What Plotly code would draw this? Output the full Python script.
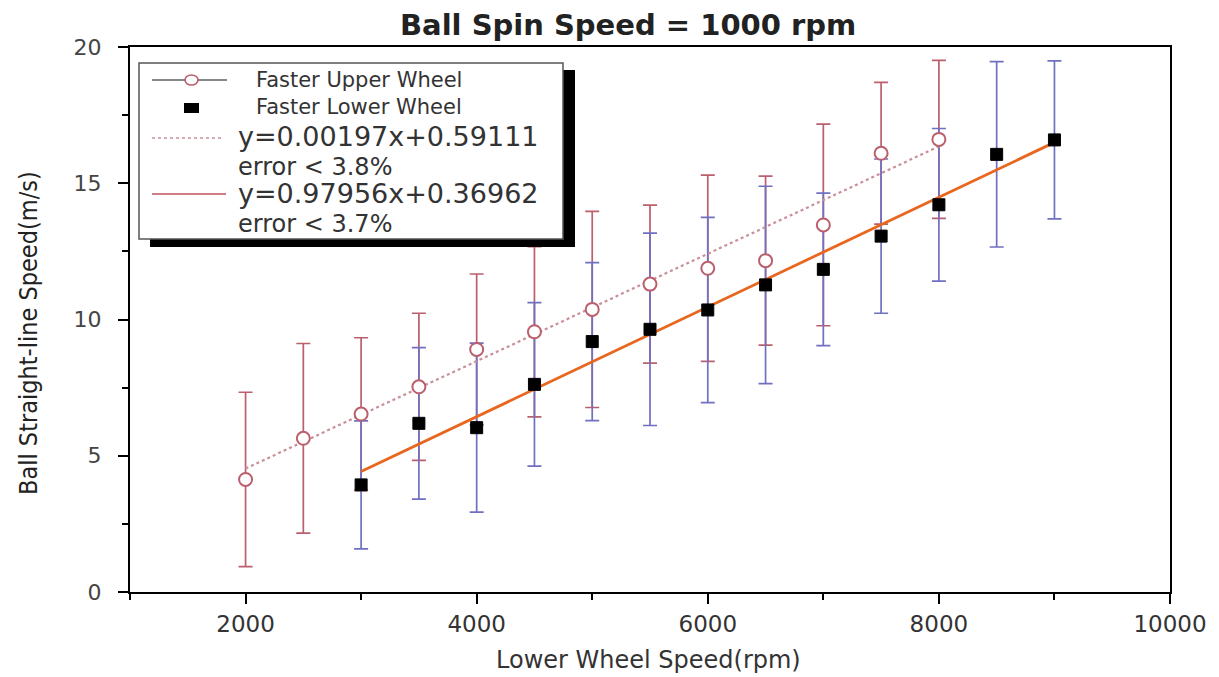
import plotly.graph_objects as go

# ---------------- data ----------------
upper_x = [2000, 2500, 3000, 3500, 4000, 4500, 5000, 5500, 6000, 6500, 7000, 7500, 8000]
upper_y = [4.13, 5.64, 6.53, 7.53, 8.90, 9.55, 10.37, 11.30, 11.88, 12.16, 13.47, 16.10, 16.61]
upper_err = [3.20, 3.48, 2.80, 2.70, 2.77, 3.12, 3.60, 2.90, 3.42, 3.10, 3.70, 2.60, 2.90]

lower_x = [3000, 3500, 4000, 4500, 5000, 5500, 6000, 6500, 7000, 7500, 8000, 8500, 9000]
lower_y = [3.93, 6.19, 6.03, 7.62, 9.19, 9.64, 10.35, 11.27, 11.84, 13.06, 14.21, 16.06, 16.59]
lower_err = [2.35, 2.78, 3.10, 3.00, 2.90, 3.53, 3.40, 3.62, 2.80, 2.83, 2.80, 3.40, 2.90]

fit_upper_x = [2000, 8000]
fit_upper_slope = 0.00197
fit_upper_intercept = 0.59111
fit_lower_x = [3000, 9000]
fit_lower_y = [4.42, 16.50]

x_ticks = [2000, 4000, 6000, 8000, 10000]
y_ticks = [0, 5, 10, 15, 20]

title_text = "Ball Spin Speed = 1000 rpm"
x_title = "Lower Wheel Speed(rpm)"
y_title = "Ball Straight-line Speed(m/s)"
series_labels = ["Faster Upper Wheel", "Faster Lower Wheel"]
fit_labels = ["y=0.00197x+0.59111", "error < 3.8%",
              "y=0.97956x+0.36962", "error < 3.7%"]

# ---------------- style ----------------
RED = "#bb5f6c"
BLUE = "#7070c2"
ORANGE = "#e8661e"
DASH = "#c99098"
TXT = "#333333"
OFF = 8  # page body margin
W, H = 1219 - OFF, 677 - OFF
# plot area in page pixels
L, R, T, B = 130, 1170, 47, 592


def px(xp):
    return (xp - L) / (R - L)


def py(yp):
    return (B - yp) / (B - T)


fig = go.Figure()

# red error bars (upper)
fig.add_trace(go.Scatter(
    x=upper_x, y=upper_y, mode="markers",
    marker=dict(size=1, color="rgba(0,0,0,0)"),
    error_y=dict(type="data", array=upper_err, color=RED, thickness=1.7, width=7),
    showlegend=False, hoverinfo="skip"))

# blue error bars (lower)
fig.add_trace(go.Scatter(
    x=lower_x, y=lower_y, mode="markers",
    marker=dict(size=1, color="rgba(0,0,0,0)"),
    error_y=dict(type="data", array=lower_err, color=BLUE, thickness=1.7, width=7),
    showlegend=False, hoverinfo="skip"))

# fit lines
fy_up = [fit_upper_slope * v + fit_upper_intercept for v in fit_upper_x]
fig.add_trace(go.Scatter(x=fit_upper_x, y=fy_up, mode="lines",
                         line=dict(color=DASH, width=2.2, dash="dot"),
                         showlegend=False, hoverinfo="skip"))
fig.add_trace(go.Scatter(x=fit_lower_x, y=fit_lower_y, mode="lines",
                         line=dict(color=ORANGE, width=2.8),
                         showlegend=False, hoverinfo="skip"))

# markers
fig.add_trace(go.Scatter(
    x=upper_x, y=upper_y, mode="markers",
    marker=dict(symbol="circle", size=13, color="white", line=dict(color=RED, width=2)),
    showlegend=False))
fig.add_trace(go.Scatter(
    x=lower_x, y=lower_y, mode="markers",
    marker=dict(symbol="square", size=12, color="black", line=dict(color="black", width=1)),
    showlegend=False))

shapes = []
annotations = []

# legend box with shadow
shapes.append(dict(type="rect", xref="paper", yref="paper",
                   x0=px(150), x1=px(575), y0=py(247), y1=py(70),
                   fillcolor="black", line=dict(width=0), layer="above"))
shapes.append(dict(type="rect", xref="paper", yref="paper",
                   x0=px(139), x1=px(563), y0=py(239), y1=py(63),
                   fillcolor="white", line=dict(color="#555555", width=1.5), layer="above"))
# legend samples
shapes.append(dict(type="line", xref="paper", yref="paper",
                   x0=px(152), x1=px(227), y0=py(80), y1=py(80),
                   line=dict(color="#888888", width=2), layer="above"))
shapes.append(dict(type="circle", xref="paper", yref="paper",
                   x0=px(185), x1=px(198), y0=py(85), y1=py(75),
                   fillcolor="white", line=dict(color=RED, width=1.6), layer="above"))
shapes.append(dict(type="rect", xref="paper", yref="paper",
                   x0=px(184), x1=px(199), y0=py(113), y1=py(103),
                   fillcolor="black", line=dict(width=0), layer="above"))
shapes.append(dict(type="line", xref="paper", yref="paper",
                   x0=px(152), x1=px(222), y0=py(138), y1=py(138),
                   line=dict(color=DASH, width=1.6, dash="dot"), layer="above"))
shapes.append(dict(type="line", xref="paper", yref="paper",
                   x0=px(152), x1=px(226), y0=py(194), y1=py(194),
                   line=dict(color="#c0505a", width=1.6), layer="above"))

# legend texts (single multi-line blocks so that line spacing matches)
annotations.append(dict(
    text="<br>".join(series_labels), xref="paper", yref="paper",
    x=px(254), y=py(93.5), xanchor="left", yanchor="middle", align="left",
    showarrow=False, font=dict(family="DejaVu Sans", size=21, color=TXT)))
fit_lines_html = []
for i, lab in enumerate(fit_labels):
    fs = 27 if i % 2 == 0 else 24
    fit_lines_html.append("<span style='font-size:%dpx'>%s</span>" % (fs, lab.replace("<", "&lt;")))
annotations.append(dict(
    text="<br>".join(fit_lines_html), xref="paper", yref="paper",
    x=px(236), y=py(180), xanchor="left", yanchor="middle", align="left",
    showarrow=False, font=dict(family="DejaVu Sans", size=22, color=TXT)))

# title & axis titles
annotations.append(dict(text="<b>" + title_text + "</b>", xref="paper", yref="paper",
                        x=px(628), y=py(25), xanchor="center", yanchor="middle",
                        showarrow=False,
                        font=dict(family="DejaVu Sans", size=29, color="#222222")))
annotations.append(dict(text=x_title, xref="paper", yref="paper",
                        x=px(648), y=py(660), xanchor="center", yanchor="middle",
                        showarrow=False,
                        font=dict(family="DejaVu Sans", size=24, color=TXT)))
annotations.append(dict(text=y_title, xref="paper", yref="paper",
                        x=px(29), y=py(333), xanchor="center", yanchor="middle",
                        showarrow=False, textangle=-90,
                        font=dict(family="DejaVu Sans Condensed, DejaVu Sans",
                                  size=25, color="#222222")))

fig.update_layout(
    width=W, height=H,
    margin=dict(l=L - OFF, r=(W + OFF) - R, t=T - OFF, b=(H + OFF) - B),
    paper_bgcolor="white", plot_bgcolor="white",
    shapes=shapes, annotations=annotations,
    showlegend=False,
)
fig.update_xaxes(range=[1000, 10000], tickvals=x_ticks, ticktext=[str(v) for v in x_ticks],
                 ticks="outside", ticklen=10, tickwidth=2, tickcolor="black",
                 showline=True, linecolor="black", linewidth=2, mirror=True,
                 showgrid=False, zeroline=False,
                 tickfont=dict(family="DejaVu Sans", size=23, color=TXT),
                 minor=dict(dtick=1000, tick0=1000, ticks="outside", ticklen=6, tickwidth=2,
                            tickcolor="black", showgrid=False))
fig.update_yaxes(range=[0, 20], tickvals=y_ticks, ticktext=[str(v) for v in y_ticks],
                 ticks="outside", ticklen=10, tickwidth=2, tickcolor="black",
                 ticklabelstandoff=12,
                 showline=True, linecolor="black", linewidth=2, mirror=True,
                 showgrid=False, zeroline=False,
                 tickfont=dict(family="DejaVu Sans", size=22, color="#444444"),
                 minor=dict(dtick=2.5, tick0=0, ticks="outside", ticklen=6, tickwidth=2,
                            tickcolor="black", showgrid=False))

fig.write_html("out.html")
